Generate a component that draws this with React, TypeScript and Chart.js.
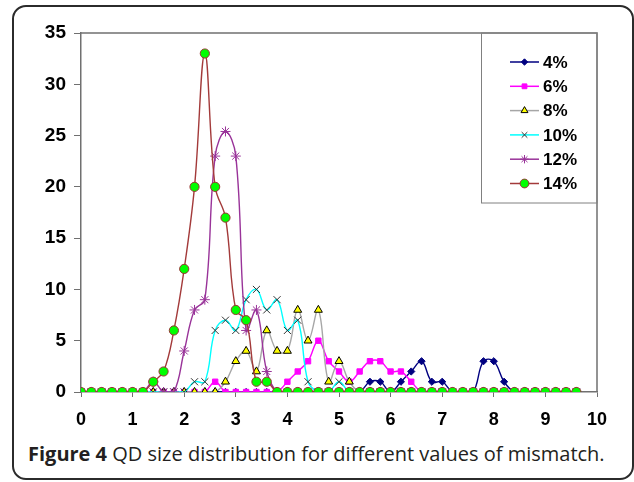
import React, { useEffect, useRef } from 'react';
import { Chart, registerables } from 'chart.js';
import { drawPoint } from 'chart.js/helpers';

Chart.register(...registerables);

// Crystal size (x) values
const xValues = [
  0, 0.2, 0.4, 0.6, 0.8, 1.0, 1.2, 1.4, 1.6, 1.8,
  2.0, 2.2, 2.4, 2.6, 2.8, 3.0, 3.2, 3.4, 3.6, 3.8,
  4.0, 4.2, 4.4, 4.6, 4.8, 5.0, 5.2, 5.4, 5.6, 5.8,
  6.0, 6.2, 6.4, 6.6, 6.8, 7.0, 7.2, 7.4, 7.6, 7.8,
  8.0, 8.2, 8.4, 8.6, 8.8, 9.0, 9.2, 9.4, 9.6,
];

const seriesNames = ['4%', '6%', '8%', '10%', '12%', '14%'];

const s4 = [
  0, 0, 0, 0, 0, 0, 0, 0, 0, 0,
  0, 0, 0, 0, 0, 0, 0, 0, 0, 0,
  0, 0, 0, 0, 0, 0, 0, 0, 1, 1,
  0, 1, 2, 3, 1, 1, 0, 0, 0, 3,
  3, 1, 0, 0, 0, 0, 0, 0, 0,
];
const s6 = [
  0, 0, 0, 0, 0, 0, 0, 0, 0, 0,
  0, 0, 0, 1, 0, 0, 0, 0, 0, 0,
  1, 2, 3, 5, 3, 2, 1, 2, 3, 3,
  2, 2, 1, 0, 0, 0, 0, 0, 0, 0,
  0, 0, 0, 0, 0, 0, 0, 0, 0,
];
const s8 = [
  0, 0, 0, 0, 0, 0, 0, 0, 0, 0,
  0, 0, 0, 0, 1, 3, 4, 2, 6, 4,
  4, 8, 5, 8, 1, 3, 1, 0, 0, 0,
  0, 0, 0, 0, 0, 0, 0, 0, 0, 0,
  0, 0, 0, 0, 0, 0, 0, 0, 0,
];
const s10 = [
  0, 0, 0, 0, 0, 0, 0, 0, 0, 0,
  0, 1, 1, 6, 7, 6, 9, 10, 8, 9,
  6, 7, 1, 0, 0, 1, 0, 0, 0, 0,
  0, 0, 0, 0, 0, 0, 0, 0, 0, 0,
  0, 0, 0, 0, 0, 0, 0, 0, 0,
];
const s12 = [
  0, 0, 0, 0, 0, 0, 0, 1, 0, 0,
  4, 8, 9, 23, 25.4, 23, 6, 8, 2, 0,
  0, 0, 0, 0, 0, 0, 0, 0, 0, 0,
  0, 0, 0, 0, 0, 0, 0, 0, 0, 0,
  0, 0, 0, 0, 0, 0, 0, 0, 0,
];
const s14 = [
  0, 0, 0, 0, 0, 0, 0, 1, 2, 6,
  12, 20, 33, 20, 17, 8, 7, 1, 1, 0,
  0, 0, 0, 0, 0, 0, 0, 0, 0, 0,
  0, 0, 0, 0, 0, 0, 0, 0, 0, 0,
  0, 0, 0, 0, 0, 0, 0, 0, 0,
];

const seriesValues = [s4, s6, s8, s10, s12, s14];

const xTicks = [0, 1, 2, 3, 4, 5, 6, 7, 8, 9, 10];
const yTicks = [0, 5, 10, 15, 20, 25, 30, 35];

const styles = [
  { line: '#000080', fill: '#000080', stroke: '#000080', shape: 'rectRot', r: 3.6, lr: 3.2 },
  { line: '#FF00FF', fill: '#FF00FF', stroke: '#FF00FF', shape: 'rect', r: 3.8, lr: 3.4 },
  { line: '#A6A6A6', fill: '#FFFF00', stroke: '#000000', shape: 'triangle', r: 4.6, lr: 4 },
  { line: '#00FFFF', fill: 'rgba(0,0,0,0)', stroke: '#333333', shape: 'crossRot', r: 5, lr: 4 },
  { line: '#993399', fill: 'rgba(0,0,0,0)', stroke: '#993399', shape: 'star', r: 5, lr: 4.2 },
  { line: '#A33A3A', fill: '#00FF00', stroke: '#993333', shape: 'circle', r: 4.6, lr: 4.4 },
];

const FONT = 'Arial, "Liberation Sans", sans-serif';

const framePlugin = {
  id: 'framePlugin',
  afterDraw(chart: any) {
    const ctx = chart.ctx;
    const { left, top, right, bottom } = chart.chartArea;
    ctx.save();
    ctx.strokeStyle = '#707070';
    ctx.lineWidth = 1.5;
    ctx.beginPath();
    ctx.moveTo(left, top);
    ctx.lineTo(right, top);
    ctx.lineTo(right, bottom);
    ctx.stroke();

    // legend box
    const lx = 481;
    const ly = top;
    const lh = 170;
    ctx.lineWidth = 1;
    ctx.strokeStyle = '#808080';
    ctx.strokeRect(lx + 0.5, ly, right - lx - 0.5, lh);

    chart.data.datasets.forEach((ds: any, i: number) => {
      const st = styles[i];
      const y = 62 + i * 24.3;
      ctx.strokeStyle = st.line;
      ctx.lineWidth = 1.5;
      ctx.beginPath();
      ctx.moveTo(510, y);
      ctx.lineTo(539, y);
      ctx.stroke();
      ctx.fillStyle = st.fill;
      ctx.strokeStyle = st.stroke;
      ctx.lineWidth = 1;
      drawPoint(ctx, { pointStyle: st.shape, radius: st.lr, rotation: 0, borderWidth: 1 }, 524.5, y);
      ctx.fillStyle = '#000';
      ctx.font = 'bold 17px ' + FONT;
      ctx.textAlign = 'left';
      ctx.textBaseline = 'middle';
      ctx.fillText(ds.label, 543, y + 1);
    });
    ctx.restore();
  },
};

export default function App() {
  const canvasRef = useRef<HTMLCanvasElement>(null);

  useEffect(() => {
    const canvas = canvasRef.current;
    if (!canvas) return;
    const datasets = seriesValues.map((vals, i) => {
      const st = styles[i];
      return {
        label: seriesNames[i],
        data: vals.map((v, k) => ({ x: xValues[k], y: v })),
        borderColor: st.line,
        borderWidth: 1.4,
        backgroundColor: st.fill,
        pointBackgroundColor: st.fill,
        pointBorderColor: st.stroke,
        pointBorderWidth: 1,
        pointStyle: st.shape,
        pointRadius: st.r,
        tension: 0.4,
        fill: false,
        order: 5 - i,
      };
    });

    const chart = new Chart(canvas, {
      type: 'line',
      data: { datasets },
      options: {
        responsive: false,
        animation: false,
        devicePixelRatio: 1,
        layout: { padding: { left: 0, right: 37, top: 33, bottom: 0 } },
        plugins: { legend: { display: false }, tooltip: { enabled: false } },
        scales: {
          x: {
            type: 'linear',
            min: 0,
            max: 10,
            afterBuildTicks: (scale: any) => {
              scale.ticks = xTicks.map((v) => ({ value: v }));
            },
            afterFit: (scale: any) => {
              scale.height = 40;
            },
            ticks: {
              color: '#000',
              font: { family: FONT, size: 18, weight: 'bold' },
              padding: 12,
              maxRotation: 0,
              autoSkip: false,
            },
            grid: {
              display: true,
              drawOnChartArea: false,
              drawTicks: true,
              tickLength: 5,
              color: '#707070',
            },
            border: { display: true, color: '#707070', width: 1.5 },
          },
          y: {
            type: 'linear',
            min: 0,
            max: 35,
            afterBuildTicks: (scale: any) => {
              scale.ticks = yTicks.map((v) => ({ value: v }));
            },
            afterFit: (scale: any) => {
              scale.width = 81;
            },
            ticks: {
              color: '#000',
              font: { family: FONT, size: 19, weight: 'bold' },
              padding: 8,
              autoSkip: false,
            },
            grid: {
              display: true,
              drawOnChartArea: false,
              drawTicks: true,
              tickLength: 7,
              color: '#707070',
            },
            border: { display: true, color: '#707070', width: 1.5 },
          },
        },
      },
      plugins: [framePlugin],
    } as any);

    return () => {
      chart.destroy();
    };
  }, []);

  return (
    <div>
      <div
        style={{
          position: 'absolute',
          left: 12,
          top: 5,
          width: 622,
          height: 475,
          boxSizing: 'border-box',
          border: '2px solid #2b2b2b',
          borderRadius: 14,
          background: '#fff',
        }}
      />
      <canvas
        ref={canvasRef}
        width={634}
        height={432}
        style={{ position: 'absolute', left: 0, top: 0, width: 634, height: 432 }}
      />
      <div
        style={{
          position: 'absolute',
          left: 28,
          top: 442,
          fontFamily: '"Open Sans", sans-serif',
          fontSize: 20,
          color: '#231f20',
          whiteSpace: 'nowrap',
          lineHeight: '24px',
        }}
      >
        <b>Figure 4</b> QD size distribution for different values of mismatch.
      </div>
    </div>
  );
}
